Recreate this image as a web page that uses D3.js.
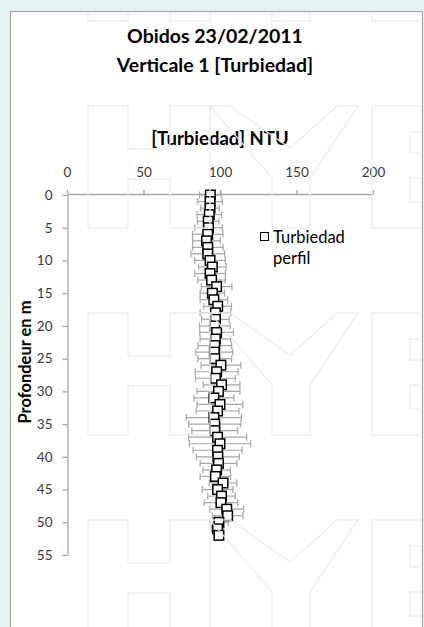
<!DOCTYPE html>
<html><head><meta charset="utf-8">
<script src="https://cdn.jsdelivr.net/npm/d3@7"></script>
<style>
html,body{margin:0;padding:0;background:#e7f2f5;}
svg{display:block;}
text{font-family:Lato,"Open Sans",sans-serif;}
</style></head>
<body><svg id="c" width="424" height="627"></svg>
<script>
const titleLines = ["Obidos 23/02/2011", "Verticale 1 [Turbiedad]"];
const xTitle = "[Turbiedad] NTU";
const yTitle = "Profondeur en m";
const legendLabel = ["Turbiedad", "perfil"];
const xTicks = [0, 50, 100, 150, 200];
const yTicks = [0, 5, 10, 15, 20, 25, 30, 35, 40, 45, 50, 55];
const depth = [0,1,2,3,4,5,6,7,8,9,10,11,12,13,14,15,16,17,18,19,20,21,22,23,24,25,26,27,28,29,30,31,32,33,34,35,36,37,38,39,40,41,42,43,44,45,46,47,48,49,50,51,52];
const turbidity = [93.7,93.5,93.5,93,92.3,92.5,92,91.2,92,92,93.5,95,93.5,94.5,97.8,95,96,98.5,97,97,96.6,97.8,97,96.6,96.3,96.6,100.6,97.8,97,101,99,96,100,98.4,96,96.6,96.6,98.4,100,98.4,98.6,99,97.8,97,102,98.4,101,100.6,104.4,105,99.3,98.4,99.3];
const errorNTU = [7,8,6,8,7,9,10,9,10,11,10,9,10,9,10,8,9,9,10,9,10,11,10,11,12,11,13,14,13,12,14,13,15,14,18,17,15,19,20,16,14,12,9,10,9,10,9,11,11,10,6,4,3];

const svg = d3.select("#c");
svg.append("defs").append("clipPath").attr("id","panel")
  .append("rect").attr("x",11).attr("y",12).attr("width",411).attr("height",620);
// white chart panel
svg.append("rect").attr("x",10.5).attr("y",11.5).attr("width",412).attr("height",620)
  .attr("fill","#fff").attr("stroke","#a6a6a6").attr("stroke-width",1.2);

const x = d3.scaleLinear().domain([0,200]).range([67,373]);
const y = d3.scaleLinear().domain([0,55]).range([195,555]);

// titles
const tf = "Lato,'Open Sans',sans-serif";
svg.append("text").attr("x",215).attr("y",43).attr("text-anchor","middle")
  .attr("font-size",19.5).attr("font-weight","bold").attr("fill","#000").text(titleLines[0]);
svg.append("text").attr("x",215).attr("y",72).attr("text-anchor","middle")
  .attr("font-size",19.5).attr("font-weight","bold").attr("fill","#000").text(titleLines[1]);
svg.append("text").attr("x",220).attr("y",145).attr("text-anchor","middle")
  .attr("font-size",18.5).attr("font-weight","bold").attr("fill","#000").text(xTitle);
svg.append("text").attr("transform","translate(31,362) rotate(-90)").attr("text-anchor","middle")
  .attr("font-size",16.5).attr("font-weight","bold").attr("fill","#000").text(yTitle);

// axes
const gx = svg.append("g").attr("transform","translate(0,194)")
  .call(d3.axisTop(x).tickValues(xTicks).tickSize(4).tickSizeOuter(0).tickPadding(13));
const gy = svg.append("g").attr("transform","translate(67.5,0)")
  .call(d3.axisLeft(y).tickValues(yTicks).tickSize(5).tickSizeOuter(0).tickPadding(10));
[gx,gy].forEach(g=>{
  g.selectAll("path,line").attr("stroke","#a6a6a6").attr("stroke-width",1.3);
  g.selectAll("text").attr("font-family",tf).attr("font-size",13.5).attr("fill","#3a3a3a");
});

// error bars
const pts = depth.map((d,i)=>({d, v:turbidity[i], e:errorNTU[i]}));
const eb = svg.append("g").attr("stroke","#a6a6a6").attr("stroke-width",1.2).attr("fill","none");
pts.forEach(p=>{
  const yy = y(p.d), x0 = x(p.v-p.e), x1 = x(p.v+p.e);
  eb.append("line").attr("x1",x0).attr("x2",x1).attr("y1",yy).attr("y2",yy);
  eb.append("line").attr("x1",x0).attr("x2",x0).attr("y1",yy-3.5).attr("y2",yy+3.5);
  eb.append("line").attr("x1",x1).attr("x2",x1).attr("y1",yy-3.5).attr("y2",yy+3.5);
});

// markers
const s = 9.5;
svg.append("g").selectAll("rect").data(pts).join("rect")
  .attr("x",p=>x(p.v)-s/2).attr("y",p=>y(p.d)-s/2).attr("width",s).attr("height",s)
  .attr("fill","#fff").attr("stroke","#000").attr("stroke-width",1.5);

// legend
svg.append("rect").attr("x",260.5).attr("y",232.5).attr("width",8).attr("height",8)
  .attr("fill","#fff").attr("stroke","#000").attr("stroke-width",1);
svg.append("text").attr("x",273).attr("y",242.5).attr("font-size",16.5).attr("fill","#000").text(legendLabel[0]);
svg.append("text").attr("x",273).attr("y",264).attr("font-size",16.5).attr("fill","#000").text(legendLabel[1]);

// faint watermark overlay (decorative outlined letters)
const wm = svg.append("g").attr("clip-path","url(#panel)").attr("fill","none")
  .attr("stroke","#ececec").attr("stroke-opacity",0.85).attr("stroke-width",1.5);
[-101, 106, 313, 520].forEach(T=>{
  const H = `M88,${T}H128V${T+43}H170V${T}H210V${T+122}H170V${T+73}H128V${T+122}H88Z`;
  const Y = `M210,${T}H230L290,${T+42}L337,${T}H358L310,${T+72}V${T+122}H272V${T+72}Z`;
  const B = `M372,${T}H440V${T+122}H372Z M410,${T+26}H440V${T+47}H410Z M410,${T+72}H440V${T+96}H410Z`;
  wm.append("path").attr("d",H);
  wm.append("path").attr("d",Y);
  wm.append("path").attr("d",B);
});
</script></body></html>
